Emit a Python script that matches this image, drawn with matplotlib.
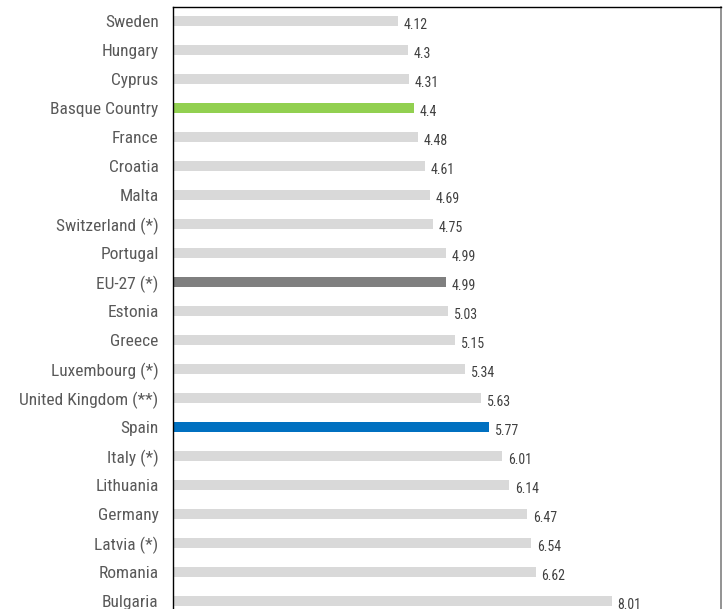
import matplotlib
matplotlib.use("Agg")
import matplotlib.pyplot as plt
import matplotlib.font_manager as fm

categories = ["Sweden", "Hungary", "Cyprus", "Basque Country", "France", "Croatia",
              "Malta", "Switzerland (*)", "Portugal", "EU-27 (*)", "Estonia", "Greece",
              "Luxembourg (*)", "United Kingdom (**)", "Spain", "Italy (*)", "Lithuania",
              "Germany", "Latvia (*)", "Romania", "Bulgaria"]
values = [4.12, 4.3, 4.31, 4.4, 4.48, 4.61, 4.69, 4.75, 4.99, 4.99, 5.03, 5.15,
          5.34, 5.63, 5.77, 6.01, 6.14, 6.47, 6.54, 6.62, 8.01]
value_labels = ["4.12", "4.3", "4.31", "4.4", "4.48", "4.61", "4.69", "4.75", "4.99",
                "4.99", "5.03", "5.15", "5.34", "5.63", "5.77", "6.01", "6.14", "6.47",
                "6.54", "6.62", "8.01"]

highlight = {"Basque Country": "#92D050", "EU-27 (*)": "#7F7F7F", "Spain": "#0070C0"}
colors = [highlight.get(c, "#D9D9D9") for c in categories]

# pick a condensed font if one is available
entries = fm.fontManager.ttflist
names = {f.name for f in entries}
stretch = "normal"
if "Liberation Sans Narrow" in names:
    family = "Liberation Sans Narrow"
elif "Roboto Condensed" in names:
    family = "Roboto Condensed"
elif "DejaVu Sans Condensed" in names:
    family = "DejaVu Sans Condensed"
else:
    family = "DejaVu Sans"
    if any(f.name == "DejaVu Sans" and f.stretch not in ("normal", 500) for f in entries):
        stretch = "condensed"
plt.rcParams['font.family'] = [family, 'DejaVu Sans']
plt.rcParams['font.stretch'] = stretch

fig = plt.figure(figsize=(7.26, 6.09), dpi=100)
ax = fig.add_axes([172.5 / 726, -6.5 / 609, 548.5 / 726, 609 / 609])

y = list(range(len(categories)))
ax.barh(y, values, height=0.37, color=colors)
ax.set_xlim(0, 10)
ax.set_ylim(len(categories) - 0.5, -0.5)

for yi, v, lab in zip(y, values, value_labels):
    ax.annotate(lab, (v, yi), xytext=(4, -3), textcoords="offset points",
                ha="left", va="center", fontsize=10, color="#404040")

ax.set_yticks(y)
ax.set_yticklabels(categories, fontsize=12.5, color="#595959")
ax.tick_params(axis="y", length=0, pad=10)
ax.set_xticks([])
for s in ["left", "top"]:
    ax.spines[s].set_color("black")
    ax.spines[s].set_linewidth(1.0)
ax.spines["right"].set_color("#808080")
ax.spines["right"].set_linewidth(1.2)
ax.spines["bottom"].set_visible(False)

fig.savefig("out.png", dpi=100)
